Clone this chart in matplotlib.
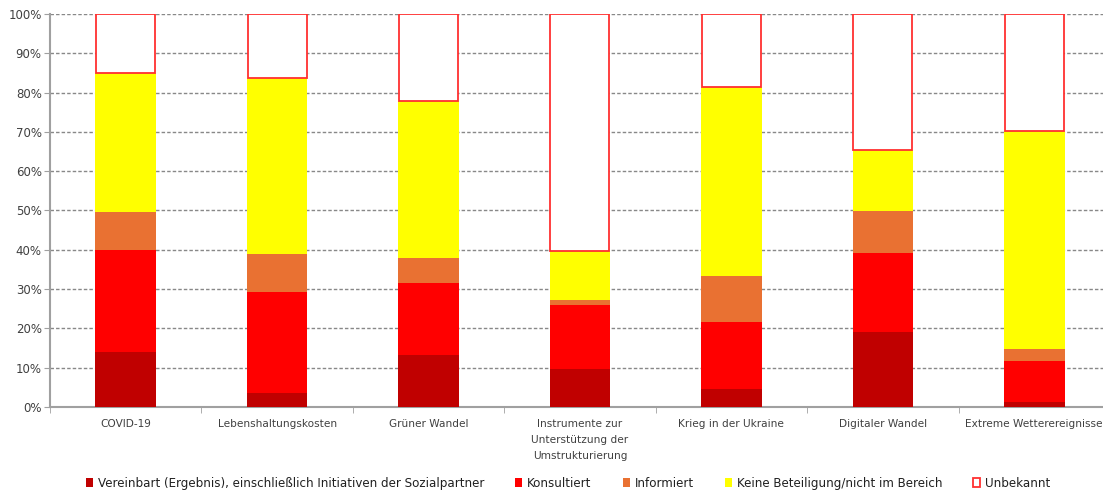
import numpy as np
import matplotlib.pyplot as plt

kategorien = ['COVID-19', 'Lebenshaltungskosten', 'Grüner Wandel',
              'Instrumente zur\nUnterstützung der\nUmstrukturierung',
              'Krieg in der Ukraine', 'Digitaler Wandel', 'Extreme Wetterereignisse']

vereinbart = [14.0, 3.6, 13.3, 9.7, 4.6, 19.0, 1.3]
konsultiert = [26.0, 25.6, 18.3, 16.2, 17.0, 20.2, 10.5]
informiert = [9.6, 9.8, 6.2, 1.4, 11.8, 10.6, 2.9]
keine = [35.4, 44.7, 40.0, 12.5, 47.9, 15.5, 55.4]
unbekannt = [15.0, 16.3, 22.2, 60.2, 18.7, 34.7, 29.9]

serien = [
    ('Vereinbart (Ergebnis), einschließlich Initiativen der Sozialpartner', vereinbart, '#C00000'),
    ('Konsultiert', konsultiert, '#FF0000'),
    ('Informiert', informiert, '#E97132'),
    ('Keine Beteiligung/nicht im Bereich', keine, '#FFFF00'),
]

plt.rcParams['font.family'] = ['Liberation Sans Narrow', 'DejaVu Sans']

fig = plt.figure(figsize=(11.03, 4.92), dpi=100)
ax = fig.add_axes([0.0453, 0.1728, 0.961, 0.7988])

x = np.arange(len(kategorien))
breite = 0.4
unten = np.zeros(len(kategorien))
for name, werte, farbe in serien:
    ax.bar(x, werte, breite, bottom=unten, color=farbe, zorder=3, label=name)
    unten += np.array(werte)
ax.bar(x, unbekannt, breite - 0.01, bottom=unten, facecolor='white', edgecolor='#FF3030',
       linewidth=1.3, zorder=3, label='Unbekannt')

ax.set_xlim(-0.5, len(kategorien) - 0.5)
ax.set_ylim(0, 100)
ax.set_yticks(np.arange(0, 101, 10))
ax.set_yticklabels([f'{v}%' for v in range(0, 101, 10)], fontsize=8.5, color='#404040')
ax.set_xticks(x)
ax.set_xticklabels(kategorien, fontsize=7.6, color='#404040', linespacing=1.75)
ax.set_xticks(np.arange(-0.5, len(kategorien), 1), minor=True)
ax.tick_params(axis='x', which='major', length=0, pad=9)
ax.tick_params(axis='x', which='minor', length=4, color='#A0A0A0', direction='out')
ax.tick_params(axis='y', length=4, color='#A0A0A0', pad=2)

ax.yaxis.grid(True, linestyle=(0, (2.5, 1.5)), color='#888888', linewidth=1, zorder=0)
for s in ['top', 'right']:
    ax.spines[s].set_visible(False)
ax.spines['left'].set_color('#A0A0A0')
ax.spines['bottom'].set_color('#A0A0A0')
ax.spines['left'].set_linewidth(1.5)
ax.spines['bottom'].set_linewidth(1.5)

fig.legend(loc='center', bbox_to_anchor=(0.515, 0.018), ncol=5, frameon=False,
           fontsize=8.6, handlelength=0.6, handleheight=0.9, handletextpad=0.4,
           columnspacing=2.6, labelcolor='#202020')

fig.savefig('out.png', dpi=100)
